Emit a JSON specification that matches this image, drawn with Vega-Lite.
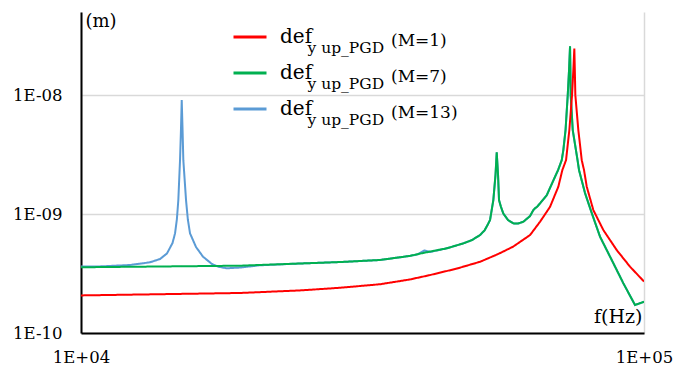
{
  "$schema": "https://vega.github.io/schema/vega-lite/v6.json",
  "autosize": {"type": "none"},
  "padding": {"left": 81, "top": 12, "right": 50, "bottom": 38},
  "width": 563,
  "height": 321,
  "background": "white",
  "config": {"view": {"stroke": null}, "font": "DejaVu Serif"},
  "data": {"values": [
    {"series": "M=13", "M": 13, "f": 10000, "v": 3.62e-10},
    {"series": "M=13", "M": 13, "f": 10808, "v": 3.63e-10},
    {"series": "M=13", "M": 13, "f": 12218, "v": 3.73e-10},
    {"series": "M=13", "M": 13, "f": 13260, "v": 3.93e-10},
    {"series": "M=13", "M": 13, "f": 13815, "v": 4.19e-10},
    {"series": "M=13", "M": 13, "f": 14216, "v": 4.67e-10},
    {"series": "M=13", "M": 13, "f": 14540, "v": 5.71e-10},
    {"series": "M=13", "M": 13, "f": 14690, "v": 6.88e-10},
    {"series": "M=13", "M": 13, "f": 14800, "v": 9.0e-10},
    {"series": "M=13", "M": 13, "f": 14889, "v": 1.31e-9},
    {"series": "M=13", "M": 13, "f": 14993, "v": 2.84e-9},
    {"series": "M=13", "M": 13, "f": 15050, "v": 5.08e-9},
    {"series": "M=13", "M": 13, "f": 15098, "v": 9.08e-9},
    {"series": "M=13", "M": 13, "f": 15150, "v": 5.08e-9},
    {"series": "M=13", "M": 13, "f": 15197, "v": 2.84e-9},
    {"series": "M=13", "M": 13, "f": 15366, "v": 1.31e-9},
    {"series": "M=13", "M": 13, "f": 15480, "v": 9.0e-10},
    {"series": "M=13", "M": 13, "f": 15619, "v": 6.88e-10},
    {"series": "M=13", "M": 13, "f": 16007, "v": 5.28e-10},
    {"series": "M=13", "M": 13, "f": 16471, "v": 4.38e-10},
    {"series": "M=13", "M": 13, "f": 17088, "v": 3.80e-10},
    {"series": "M=13", "M": 13, "f": 17540, "v": 3.61e-10},
    {"series": "M=13", "M": 13, "f": 18150, "v": 3.50e-10},
    {"series": "M=13", "M": 13, "f": 19164, "v": 3.55e-10},
    {"series": "M=13", "M": 13, "f": 20795, "v": 3.71e-10},
    {"series": "M=13", "M": 13, "f": 24490, "v": 3.84e-10},
    {"series": "M=13", "M": 13, "f": 28843, "v": 3.95e-10},
    {"series": "M=13", "M": 13, "f": 33971, "v": 4.11e-10},
    {"series": "M=13", "M": 13, "f": 38403, "v": 4.45e-10},
    {"series": "M=13", "M": 13, "f": 39680, "v": 4.59e-10},
    {"series": "M=13", "M": 13, "f": 40700, "v": 4.94e-10},
    {"series": "M=13", "M": 13, "f": 41680, "v": 4.80e-10},
    {"series": "M=13", "M": 13, "f": 44626, "v": 5.15e-10},
    {"series": "M=13", "M": 13, "f": 47767, "v": 5.67e-10},
    {"series": "M=13", "M": 13, "f": 49500, "v": 6.05e-10},
    {"series": "M=13", "M": 13, "f": 51140, "v": 6.66e-10},
    {"series": "M=13", "M": 13, "f": 52100, "v": 7.3e-10},
    {"series": "M=13", "M": 13, "f": 52842, "v": 8.24e-10},
    {"series": "M=13", "M": 13, "f": 53276, "v": 8.91e-10},
    {"series": "M=13", "M": 13, "f": 53999, "v": 1.31e-9},
    {"series": "M=13", "M": 13, "f": 54480, "v": 2.13e-9},
    {"series": "M=13", "M": 13, "f": 54754, "v": 3.30e-9},
    {"series": "M=13", "M": 13, "f": 55050, "v": 2.13e-9},
    {"series": "M=13", "M": 13, "f": 55270, "v": 1.31e-9},
    {"series": "M=13", "M": 13, "f": 55710, "v": 1.15e-9},
    {"series": "M=13", "M": 13, "f": 56251, "v": 1.01e-9},
    {"series": "M=13", "M": 13, "f": 57343, "v": 8.91e-10},
    {"series": "M=13", "M": 13, "f": 58601, "v": 8.35e-10},
    {"series": "M=13", "M": 13, "f": 59740, "v": 8.33e-10},
    {"series": "M=13", "M": 13, "f": 61049, "v": 8.62e-10},
    {"series": "M=13", "M": 13, "f": 62746, "v": 9.62e-10},
    {"series": "M=13", "M": 13, "f": 63598, "v": 1.08e-9},
    {"series": "M=13", "M": 13, "f": 64042, "v": 1.12e-9},
    {"series": "M=13", "M": 13, "f": 64568, "v": 1.15e-9},
    {"series": "M=13", "M": 13, "f": 65365, "v": 1.23e-9},
    {"series": "M=13", "M": 13, "f": 67181, "v": 1.44e-9},
    {"series": "M=13", "M": 13, "f": 69500, "v": 2.06e-9},
    {"series": "M=13", "M": 13, "f": 70359, "v": 2.34e-9},
    {"series": "M=13", "M": 13, "f": 71431, "v": 2.84e-9},
    {"series": "M=13", "M": 13, "f": 71900, "v": 3.45e-9},
    {"series": "M=13", "M": 13, "f": 72550, "v": 5.08e-9},
    {"series": "M=13", "M": 13, "f": 73206, "v": 1.0e-8},
    {"series": "M=13", "M": 13, "f": 73597, "v": 1.62e-8},
    {"series": "M=13", "M": 13, "f": 73898, "v": 2.58e-8},
    {"series": "M=13", "M": 13, "f": 74010, "v": 1.62e-8},
    {"series": "M=13", "M": 13, "f": 74100, "v": 1.0e-8},
    {"series": "M=13", "M": 13, "f": 74719, "v": 5.08e-9},
    {"series": "M=13", "M": 13, "f": 76201, "v": 2.84e-9},
    {"series": "M=13", "M": 13, "f": 76670, "v": 2.34e-9},
    {"series": "M=13", "M": 13, "f": 78573, "v": 1.50e-9},
    {"series": "M=13", "M": 13, "f": 80757, "v": 1.02e-9},
    {"series": "M=13", "M": 13, "f": 83547, "v": 6.45e-10},
    {"series": "M=13", "M": 13, "f": 87638, "v": 4.11e-10},
    {"series": "M=13", "M": 13, "f": 91896, "v": 2.62e-10},
    {"series": "M=13", "M": 13, "f": 96385, "v": 1.72e-10},
    {"series": "M=13", "M": 13, "f": 100000, "v": 1.83e-10},

    {"series": "M=7", "M": 7, "f": 10000, "v": 3.57e-10},
    {"series": "M=7", "M": 7, "f": 19164, "v": 3.68e-10},
    {"series": "M=7", "M": 7, "f": 24490, "v": 3.84e-10},
    {"series": "M=7", "M": 7, "f": 28843, "v": 3.95e-10},
    {"series": "M=7", "M": 7, "f": 33971, "v": 4.11e-10},
    {"series": "M=7", "M": 7, "f": 38403, "v": 4.45e-10},
    {"series": "M=7", "M": 7, "f": 40700, "v": 4.73e-10},
    {"series": "M=7", "M": 7, "f": 44626, "v": 5.15e-10},
    {"series": "M=7", "M": 7, "f": 47767, "v": 5.67e-10},
    {"series": "M=7", "M": 7, "f": 49500, "v": 6.05e-10},
    {"series": "M=7", "M": 7, "f": 51140, "v": 6.66e-10},
    {"series": "M=7", "M": 7, "f": 52100, "v": 7.3e-10},
    {"series": "M=7", "M": 7, "f": 52842, "v": 8.24e-10},
    {"series": "M=7", "M": 7, "f": 53276, "v": 8.91e-10},
    {"series": "M=7", "M": 7, "f": 53999, "v": 1.31e-9},
    {"series": "M=7", "M": 7, "f": 54480, "v": 2.13e-9},
    {"series": "M=7", "M": 7, "f": 54754, "v": 3.30e-9},
    {"series": "M=7", "M": 7, "f": 55050, "v": 2.13e-9},
    {"series": "M=7", "M": 7, "f": 55270, "v": 1.31e-9},
    {"series": "M=7", "M": 7, "f": 55710, "v": 1.15e-9},
    {"series": "M=7", "M": 7, "f": 56251, "v": 1.01e-9},
    {"series": "M=7", "M": 7, "f": 57343, "v": 8.91e-10},
    {"series": "M=7", "M": 7, "f": 58601, "v": 8.35e-10},
    {"series": "M=7", "M": 7, "f": 59740, "v": 8.33e-10},
    {"series": "M=7", "M": 7, "f": 61049, "v": 8.62e-10},
    {"series": "M=7", "M": 7, "f": 62746, "v": 9.62e-10},
    {"series": "M=7", "M": 7, "f": 63598, "v": 1.08e-9},
    {"series": "M=7", "M": 7, "f": 64042, "v": 1.12e-9},
    {"series": "M=7", "M": 7, "f": 64568, "v": 1.15e-9},
    {"series": "M=7", "M": 7, "f": 65365, "v": 1.23e-9},
    {"series": "M=7", "M": 7, "f": 67181, "v": 1.44e-9},
    {"series": "M=7", "M": 7, "f": 69500, "v": 2.06e-9},
    {"series": "M=7", "M": 7, "f": 70359, "v": 2.34e-9},
    {"series": "M=7", "M": 7, "f": 71431, "v": 2.84e-9},
    {"series": "M=7", "M": 7, "f": 71900, "v": 3.45e-9},
    {"series": "M=7", "M": 7, "f": 72550, "v": 5.08e-9},
    {"series": "M=7", "M": 7, "f": 73206, "v": 1.0e-8},
    {"series": "M=7", "M": 7, "f": 73597, "v": 1.62e-8},
    {"series": "M=7", "M": 7, "f": 73898, "v": 2.58e-8},
    {"series": "M=7", "M": 7, "f": 74010, "v": 1.62e-8},
    {"series": "M=7", "M": 7, "f": 74100, "v": 1.0e-8},
    {"series": "M=7", "M": 7, "f": 74719, "v": 5.08e-9},
    {"series": "M=7", "M": 7, "f": 76201, "v": 2.84e-9},
    {"series": "M=7", "M": 7, "f": 76670, "v": 2.34e-9},
    {"series": "M=7", "M": 7, "f": 78573, "v": 1.50e-9},
    {"series": "M=7", "M": 7, "f": 80757, "v": 1.02e-9},
    {"series": "M=7", "M": 7, "f": 83547, "v": 6.45e-10},
    {"series": "M=7", "M": 7, "f": 87638, "v": 4.11e-10},
    {"series": "M=7", "M": 7, "f": 91896, "v": 2.62e-10},
    {"series": "M=7", "M": 7, "f": 96385, "v": 1.72e-10},
    {"series": "M=7", "M": 7, "f": 100000, "v": 1.83e-10},

    {"series": "M=1", "M": 1, "f": 10000, "v": 2.07e-10},
    {"series": "M=1", "M": 1, "f": 19164, "v": 2.17e-10},
    {"series": "M=1", "M": 1, "f": 24490, "v": 2.28e-10},
    {"series": "M=1", "M": 1, "f": 28843, "v": 2.40e-10},
    {"series": "M=1", "M": 1, "f": 33971, "v": 2.57e-10},
    {"series": "M=1", "M": 1, "f": 38403, "v": 2.82e-10},
    {"series": "M=1", "M": 1, "f": 41680, "v": 3.07e-10},
    {"series": "M=1", "M": 1, "f": 46500, "v": 3.48e-10},
    {"series": "M=1", "M": 1, "f": 51140, "v": 3.97e-10},
    {"series": "M=1", "M": 1, "f": 55000, "v": 4.6e-10},
    {"series": "M=1", "M": 1, "f": 58510, "v": 5.31e-10},
    {"series": "M=1", "M": 1, "f": 62746, "v": 6.66e-10},
    {"series": "M=1", "M": 1, "f": 65365, "v": 8.62e-10},
    {"series": "M=1", "M": 1, "f": 68094, "v": 1.15e-9},
    {"series": "M=1", "M": 1, "f": 70445, "v": 1.70e-9},
    {"series": "M=1", "M": 1, "f": 71606, "v": 2.34e-9},
    {"series": "M=1", "M": 1, "f": 72699, "v": 2.84e-9},
    {"series": "M=1", "M": 1, "f": 73687, "v": 5.08e-9},
    {"series": "M=1", "M": 1, "f": 74505, "v": 1.0e-8},
    {"series": "M=1", "M": 1, "f": 74902, "v": 1.62e-8},
    {"series": "M=1", "M": 1, "f": 75209, "v": 2.47e-8},
    {"series": "M=1", "M": 1, "f": 75360, "v": 1.62e-8},
    {"series": "M=1", "M": 1, "f": 75518, "v": 1.0e-8},
    {"series": "M=1", "M": 1, "f": 76450, "v": 5.08e-9},
    {"series": "M=1", "M": 1, "f": 77521, "v": 2.84e-9},
    {"series": "M=1", "M": 1, "f": 78254, "v": 2.34e-9},
    {"series": "M=1", "M": 1, "f": 79121, "v": 1.70e-9},
    {"series": "M=1", "M": 1, "f": 81288, "v": 1.08e-9},
    {"series": "M=1", "M": 1, "f": 84681, "v": 7.34e-10},
    {"series": "M=1", "M": 1, "f": 89448, "v": 4.98e-10},
    {"series": "M=1", "M": 1, "f": 94448, "v": 3.61e-10},
    {"series": "M=1", "M": 1, "f": 100000, "v": 2.71e-10}
  ]},
  "mark": {"type": "line", "strokeWidth": 2, "interpolate": "linear", "clip": true},
  "encoding": {
    "x": {
      "field": "f", "type": "quantitative",
      "scale": {"type": "log", "domain": [10000, 100000], "nice": false},
      "axis": {
        "values": [10000, 100000],
        "labelExpr": "'1E+' + format(round(log(datum.value)/LN10), '02d')",
        "labelFont": "DejaVu Serif", "labelFontSize": 16.5, "labelColor": "black",
        "labelFlush": false, "labelOverlap": false, "labelPadding": 16,
        "ticks": false,
        "domainColor": "black", "domainWidth": 2,
        "grid": true, "gridColor": "#d9d9d9", "gridWidth": 1.5,
        "title": "f(Hz)", "titleFont": "DejaVu Serif", "titleFontSize": 19,
        "titleFontWeight": "normal", "titleColor": "black",
        "titleAlign": "right", "titleBaseline": "middle", "titleX": 561, "titleY": -17
      }
    },
    "y": {
      "field": "v", "type": "quantitative",
      "scale": {"type": "log", "domain": [1e-10, 5e-8], "nice": false},
      "axis": {
        "values": [1e-10, 1e-9, 1e-8],
        "labelExpr": "'1E-' + format(-round(log(datum.value)/LN10), '02d')",
        "labelFont": "DejaVu Serif", "labelFontSize": 16.5, "labelColor": "black",
        "labelFlush": false, "labelOverlap": false, "labelPadding": 19,
        "ticks": false,
        "domainColor": "black", "domainWidth": 2,
        "grid": true, "gridColor": "#d9d9d9", "gridWidth": 1.5,
        "title": "(m)", "titleFont": "DejaVu Serif", "titleFontSize": 18,
        "titleFontWeight": "normal", "titleColor": "black", "titleAngle": 0,
        "titleAlign": "left", "titleBaseline": "middle", "titleX": 4, "titleY": 9
      }
    },
    "color": {
      "field": "series", "type": "nominal",
      "scale": {"domain": ["M=1", "M=7", "M=13"], "range": ["#ff0000", "#00b050", "#5b9bd5"]},
      "legend": {
        "orient": "none", "legendX": 151, "legendY": 10, "title": null, "padding": 0,
        "symbolType": "stroke", "symbolSize": 1089, "symbolStrokeWidth": 3,
        "labelExpr": "'def'", "labelFont": "DejaVu Serif", "labelFontSize": 20,
        "labelColor": "black", "labelOffset": 12, "clipHeight": 30, "rowPadding": 6
      }
    },
    "strokeDash": {
      "field": "M", "type": "ordinal",
      "scale": {"range": [[1, 0], [1, 0], [1, 0]]},
      "legend": {
        "orient": "none", "legendX": 211, "legendY": 21, "title": null, "padding": 0,
        "symbolSize": 0, "symbolOpacity": 0, "symbolStrokeWidth": 0,
        "labelExpr": "'y up_PGD'", "labelFont": "DejaVu Serif", "labelFontSize": 15.5,
        "labelColor": "black", "labelOffset": 0, "clipHeight": 30, "rowPadding": 6
      }
    },
    "opacity": {
      "field": "M", "type": "ordinal",
      "scale": {"domain": [1, 7, 13], "range": [1, 1]},
      "legend": {
        "orient": "none", "legendX": 293, "legendY": 14, "title": null, "padding": 0,
        "symbolSize": 0, "symbolOpacity": 0, "symbolStrokeWidth": 0,
        "labelExpr": "'(M=' + datum.label + ')'", "labelFont": "DejaVu Serif", "labelFontSize": 17,
        "labelColor": "black", "labelOffset": 0, "clipHeight": 30, "rowPadding": 6
      }
    }
  }
}
